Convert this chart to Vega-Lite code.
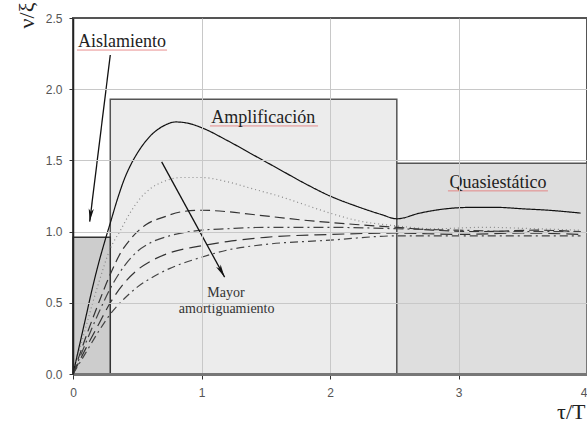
{
  "$schema": "https://vega.github.io/schema/vega-lite/v6.json",
  "autosize": {"type": "none"},
  "padding": {"left": 73, "top": 18, "right": 0, "bottom": 49},
  "width": 514,
  "height": 356,
  "background": "white",
  "config": {"view": {"stroke": "#555", "strokeWidth": 2}, "font": "Liberation Sans"},
  "datasets": {
    "boxes": [
      {"name": "Amplificación", "x0": 0.29, "x1": 2.52, "y0": 0, "y1": 1.93},
      {"name": "Quasiestático", "x0": 2.52, "x1": 4, "y0": 0, "y1": 1.48},
      {"name": "Aislamiento", "x0": 0, "x1": 0.29, "y0": 0, "y1": 0.96}
    ],
    "curves": [
      {"s": "s1", "t": 0, "v": 0}, {"s": "s1", "t": 0.05, "v": 0.2}, {"s": "s1", "t": 0.1, "v": 0.4}, {"s": "s1", "t": 0.15, "v": 0.6}, {"s": "s1", "t": 0.2, "v": 0.78}, {"s": "s1", "t": 0.25, "v": 0.94}, {"s": "s1", "t": 0.29, "v": 1.06}, {"s": "s1", "t": 0.35, "v": 1.24}, {"s": "s1", "t": 0.4, "v": 1.37}, {"s": "s1", "t": 0.45, "v": 1.47}, {"s": "s1", "t": 0.5, "v": 1.55}, {"s": "s1", "t": 0.6, "v": 1.67}, {"s": "s1", "t": 0.7, "v": 1.74}, {"s": "s1", "t": 0.8, "v": 1.77}, {"s": "s1", "t": 0.9, "v": 1.76}, {"s": "s1", "t": 1.0, "v": 1.73}, {"s": "s1", "t": 1.2, "v": 1.64}, {"s": "s1", "t": 1.4, "v": 1.54}, {"s": "s1", "t": 1.6, "v": 1.44}, {"s": "s1", "t": 1.8, "v": 1.34}, {"s": "s1", "t": 2.0, "v": 1.25}, {"s": "s1", "t": 2.2, "v": 1.18}, {"s": "s1", "t": 2.4, "v": 1.12}, {"s": "s1", "t": 2.52, "v": 1.09}, {"s": "s1", "t": 2.7, "v": 1.13}, {"s": "s1", "t": 2.9, "v": 1.16}, {"s": "s1", "t": 3.1, "v": 1.17}, {"s": "s1", "t": 3.3, "v": 1.17}, {"s": "s1", "t": 3.5, "v": 1.16}, {"s": "s1", "t": 3.7, "v": 1.15}, {"s": "s1", "t": 3.95, "v": 1.13},
      {"s": "s2", "t": 0, "v": 0}, {"s": "s2", "t": 0.1, "v": 0.33}, {"s": "s2", "t": 0.2, "v": 0.64}, {"s": "s2", "t": 0.29, "v": 0.88}, {"s": "s2", "t": 0.37, "v": 1.01}, {"s": "s2", "t": 0.45, "v": 1.14}, {"s": "s2", "t": 0.52, "v": 1.23}, {"s": "s2", "t": 0.6, "v": 1.3}, {"s": "s2", "t": 0.7, "v": 1.35}, {"s": "s2", "t": 0.85, "v": 1.38}, {"s": "s2", "t": 1.0, "v": 1.38}, {"s": "s2", "t": 1.2, "v": 1.35}, {"s": "s2", "t": 1.4, "v": 1.3}, {"s": "s2", "t": 1.6, "v": 1.25}, {"s": "s2", "t": 1.8, "v": 1.19}, {"s": "s2", "t": 2.0, "v": 1.13}, {"s": "s2", "t": 2.2, "v": 1.08}, {"s": "s2", "t": 2.52, "v": 1.04}, {"s": "s2", "t": 2.8, "v": 1.02}, {"s": "s2", "t": 3.2, "v": 1.03}, {"s": "s2", "t": 3.6, "v": 1.02}, {"s": "s2", "t": 3.95, "v": 1.01},
      {"s": "s3", "t": 0, "v": 0}, {"s": "s3", "t": 0.1, "v": 0.26}, {"s": "s3", "t": 0.2, "v": 0.5}, {"s": "s3", "t": 0.29, "v": 0.7}, {"s": "s3", "t": 0.37, "v": 0.85}, {"s": "s3", "t": 0.45, "v": 0.95}, {"s": "s3", "t": 0.57, "v": 1.05}, {"s": "s3", "t": 0.7, "v": 1.1}, {"s": "s3", "t": 0.85, "v": 1.14}, {"s": "s3", "t": 1.0, "v": 1.15}, {"s": "s3", "t": 1.2, "v": 1.14}, {"s": "s3", "t": 1.4, "v": 1.12}, {"s": "s3", "t": 1.8, "v": 1.08}, {"s": "s3", "t": 2.2, "v": 1.05}, {"s": "s3", "t": 2.52, "v": 1.03}, {"s": "s3", "t": 2.8, "v": 1.01}, {"s": "s3", "t": 3.2, "v": 1.0}, {"s": "s3", "t": 3.6, "v": 1.01}, {"s": "s3", "t": 3.95, "v": 1.0},
      {"s": "s4", "t": 0, "v": 0}, {"s": "s4", "t": 0.1, "v": 0.22}, {"s": "s4", "t": 0.2, "v": 0.43}, {"s": "s4", "t": 0.29, "v": 0.6}, {"s": "s4", "t": 0.4, "v": 0.76}, {"s": "s4", "t": 0.5, "v": 0.86}, {"s": "s4", "t": 0.6, "v": 0.92}, {"s": "s4", "t": 0.75, "v": 0.97}, {"s": "s4", "t": 1.0, "v": 1.01}, {"s": "s4", "t": 1.2, "v": 1.02}, {"s": "s4", "t": 1.5, "v": 1.03}, {"s": "s4", "t": 2.0, "v": 1.03}, {"s": "s4", "t": 2.52, "v": 1.02}, {"s": "s4", "t": 3.0, "v": 1.01}, {"s": "s4", "t": 3.5, "v": 1.0}, {"s": "s4", "t": 3.95, "v": 1.0},
      {"s": "s5", "t": 0, "v": 0}, {"s": "s5", "t": 0.1, "v": 0.18}, {"s": "s5", "t": 0.2, "v": 0.35}, {"s": "s5", "t": 0.29, "v": 0.5}, {"s": "s5", "t": 0.4, "v": 0.64}, {"s": "s5", "t": 0.5, "v": 0.73}, {"s": "s5", "t": 0.6, "v": 0.79}, {"s": "s5", "t": 0.75, "v": 0.85}, {"s": "s5", "t": 1.0, "v": 0.9}, {"s": "s5", "t": 1.2, "v": 0.93}, {"s": "s5", "t": 1.5, "v": 0.96}, {"s": "s5", "t": 2.0, "v": 0.98}, {"s": "s5", "t": 2.52, "v": 0.99}, {"s": "s5", "t": 3.0, "v": 0.98}, {"s": "s5", "t": 3.5, "v": 0.99}, {"s": "s5", "t": 3.95, "v": 0.98},
      {"s": "s6", "t": 0, "v": 0}, {"s": "s6", "t": 0.1, "v": 0.15}, {"s": "s6", "t": 0.2, "v": 0.3}, {"s": "s6", "t": 0.29, "v": 0.42}, {"s": "s6", "t": 0.4, "v": 0.53}, {"s": "s6", "t": 0.5, "v": 0.61}, {"s": "s6", "t": 0.6, "v": 0.67}, {"s": "s6", "t": 0.75, "v": 0.74}, {"s": "s6", "t": 1.0, "v": 0.82}, {"s": "s6", "t": 1.2, "v": 0.87}, {"s": "s6", "t": 1.5, "v": 0.91}, {"s": "s6", "t": 2.0, "v": 0.94}, {"s": "s6", "t": 2.52, "v": 0.97}, {"s": "s6", "t": 3.0, "v": 0.97}, {"s": "s6", "t": 3.5, "v": 0.97}, {"s": "s6", "t": 3.95, "v": 0.97}
    ],
    "arrows": [
      {"id": "a1", "x": 0.29, "y": 2.24, "x2": 0.13, "y2": 1.07},
      {"id": "a2", "x": 0.69, "y": 1.49, "x2": 1.18, "y2": 0.68}
    ],
    "labels": [
      {"label": "Aislamiento", "x": 0.381, "y": 2.296},
      {"label": "Amplificación", "x": 1.48, "y": 1.763},
      {"label": "Quasiestático", "x": 3.307, "y": 1.304}
    ],
    "notes": [
      {"label": "Mayor", "x": 1.19, "y": 0.54},
      {"label": "amortiguamiento", "x": 1.196, "y": 0.428}
    ],
    "underlines": [
      {"x": 0.031, "x2": 0.732, "y": 2.275},
      {"x": 1.066, "x2": 1.907, "y": 1.742},
      {"x": 2.918, "x2": 3.696, "y": 1.286}
    ]
  },
  "layer": [
    {
      "data": {"name": "boxes"},
      "mark": {"type": "rect", "strokeWidth": 1.5},
      "encoding": {
        "x": {"field": "x0", "type": "quantitative", "scale": {"domain": [0, 4], "nice": false},
          "axis": {"values": [0, 1, 2, 3, 4], "format": "d", "grid": true,
            "gridColor": {"condition": {"test": "datum.value == 4", "value": "transparent"}, "value": "#c8c8c8"},
            "domainColor": "#777", "domainWidth": 3, "tickColor": "#333", "tickSize": 5, "labelPadding": 8, "labelFlush": false,
            "labelAlign": {"condition": {"test": "datum.value == 4", "value": "right"}, "value": "center"},
            "labelFont": "Liberation Sans", "labelFontSize": 12, "labelColor": "#555",
            "title": "τ/T", "titleFont": "Liberation Serif", "titleFontSize": 22, "titleFontWeight": "normal", "titleColor": "#222",
            "titleX": 512, "titleY": 44, "titleAlign": "right", "titleBaseline": "alphabetic", "zindex": 1}},
        "x2": {"field": "x1"},
        "y": {"field": "y0", "type": "quantitative", "scale": {"domain": [0, 2.5], "nice": false},
          "axis": {"values": [0, 0.5, 1, 1.5, 2, 2.5], "format": ".1f", "grid": true,
            "gridColor": {"condition": {"test": "datum.value == 2.5 || datum.value == 0", "value": "transparent"}, "value": "#c8c8c8"},
            "domainColor": "#222", "domainWidth": 1.5, "tickColor": "#333", "tickSize": 4, "labelPadding": 7,
            "labelFont": "Liberation Sans", "labelFontSize": 12, "labelColor": "#555",
            "title": "ν/ξ", "titleFont": "Liberation Serif", "titleFontSize": 22, "titleFontWeight": "normal", "titleColor": "#222",
            "titleAngle": 270, "titleX": -40, "titleY": -16, "titleAlign": "right", "titleBaseline": "alphabetic", "zindex": 1}},
        "y2": {"field": "y1"},
        "fill": {"field": "name", "type": "nominal", "scale": {"domain": ["Amplificación", "Quasiestático", "Aislamiento"], "range": ["#ececec", "#dedede", "#cdcdcd"]}, "legend": null},
        "stroke": {"field": "name", "type": "nominal", "scale": {"domain": ["Amplificación", "Quasiestático", "Aislamiento"], "range": ["#555555", "#555555", "#333333"]}, "legend": null}
      }
    },
    {
      "data": {"name": "curves"},
      "mark": {"type": "line", "interpolate": "monotone", "strokeWidth": 1.2},
      "encoding": {
        "x": {"field": "t", "type": "quantitative"},
        "y": {"field": "v", "type": "quantitative"},
        "detail": {"field": "s"},
        "color": {"field": "s", "type": "nominal", "scale": {"domain": ["s1", "s2", "s3", "s4", "s5", "s6"], "range": ["#111111", "#8a8a8a", "#333333", "#444444", "#333333", "#444444"]}, "legend": null},
        "strokeDash": {"field": "s", "type": "nominal", "scale": {"domain": ["s1", "s2", "s3", "s4", "s5", "s6"], "range": [[1, 0], [1, 3], [10, 5], [10, 4, 2, 4], [12, 6], [8, 4, 2, 4]]}, "legend": null}
      }
    },
    {
      "data": {"name": "arrows"},
      "mark": {"type": "rule", "color": "#111", "strokeWidth": 1.3},
      "encoding": {
        "x": {"field": "x", "type": "quantitative"},
        "y": {"field": "y", "type": "quantitative"},
        "x2": {"field": "x2"},
        "y2": {"field": "y2"}
      }
    },
    {
      "data": {"name": "arrows"},
      "transform": [{"filter": "datum.id == 'a1'"}],
      "mark": {"type": "point", "shape": "M0,0 L-0.4,-2 L0,-1.5 L0.4,-2 Z", "filled": true, "color": "#111", "size": 169, "opacity": 1, "angle": 7},
      "encoding": {
        "x": {"field": "x2", "type": "quantitative"},
        "y": {"field": "y2", "type": "quantitative"}
      }
    },
    {
      "data": {"name": "arrows"},
      "transform": [{"filter": "datum.id == 'a2'"}],
      "mark": {"type": "point", "shape": "M0,0 L-0.4,-2 L0,-1.5 L0.4,-2 Z", "filled": true, "color": "#111", "size": 169, "opacity": 1, "angle": 331},
      "encoding": {
        "x": {"field": "x2", "type": "quantitative"},
        "y": {"field": "y2", "type": "quantitative"}
      }
    },
    {
      "data": {"name": "underlines"},
      "mark": {"type": "rule", "color": "#e57373", "strokeWidth": 1, "opacity": 0.8},
      "encoding": {
        "x": {"field": "x", "type": "quantitative"},
        "x2": {"field": "x2"},
        "y": {"field": "y", "type": "quantitative"}
      }
    },
    {
      "data": {"name": "labels"},
      "mark": {"type": "text", "font": "Liberation Serif", "fontSize": 18, "color": "#222", "align": "center", "baseline": "alphabetic"},
      "encoding": {
        "x": {"field": "x", "type": "quantitative"},
        "y": {"field": "y", "type": "quantitative"},
        "text": {"field": "label"}
      }
    },
    {
      "data": {"name": "notes"},
      "mark": {"type": "text", "font": "Liberation Serif", "fontSize": 14, "color": "#333", "align": "center", "baseline": "alphabetic"},
      "encoding": {
        "x": {"field": "x", "type": "quantitative"},
        "y": {"field": "y", "type": "quantitative"},
        "text": {"field": "label"}
      }
    }
  ]
}
